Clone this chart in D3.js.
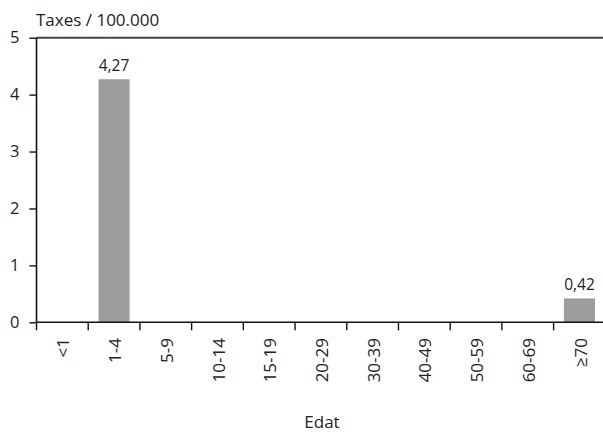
<!DOCTYPE html>
<html>
<head>
<meta charset="utf-8">
<script src="https://cdn.jsdelivr.net/npm/d3@7"></script>
<style>
  html, body { margin: 0; padding: 0; background: #fff; }
  svg { display: block; font-family: "Open Sans", "Noto Sans", sans-serif; }
</style>
</head>
<body>
<svg id="chart" width="603" height="432"></svg>
<script>
const categories = ["<1", "1-4", "5-9", "10-14", "15-19", "20-29", "30-39", "40-49", "50-59", "60-69", "≥70"];
const values = [0, 4.27, 0, 0, 0, 0, 0, 0, 0, 0, 0.42];
const yTicks = [0, 1, 2, 3, 4, 5];
const yTitle = "Taxes / 100.000";
const xTitle = "Edat";

const svg = d3.select("#chart");
const mLeft = 36.5, mRight = 605.3, mTop = 37.7, mBottom = 322.3;

const x = d3.scaleBand().domain(categories).range([mLeft, mRight]).padding(0);
const y = d3.scaleLinear().domain([0, 5]).range([mBottom, mTop]);
const bw = x.bandwidth();
const fmt = v => d3.format(".2f")(v).replace(".", ",");

// top border line at y = 5
svg.append("line")
  .attr("x1", mLeft).attr("x2", 603)
  .attr("y1", y(5)).attr("y2", y(5))
  .attr("stroke", "#444").attr("stroke-width", 2);

const barData = categories.map((c, i) => ({c, v: values[i]})).filter(d => d.v > 0);

// bars
svg.append("g").selectAll("rect")
  .data(barData)
  .join("rect")
  .attr("x", d => x(d.c) + bw * 0.2)
  .attr("width", bw * 0.6)
  .attr("y", d => y(d.v))
  .attr("height", d => y(0) - y(d.v))
  .attr("fill", "#9d9d9d");

// data labels
svg.append("g").selectAll("text")
  .data(barData)
  .join("text")
  .attr("x", d => x(d.c) + bw / 2)
  .attr("y", d => y(d.v) - 8)
  .attr("text-anchor", "middle")
  .attr("font-size", 15.5)
  .attr("fill", "#222")
  .text(d => fmt(d.v));

// y axis
const yAxis = svg.append("g")
  .attr("transform", `translate(${mLeft},0)`)
  .call(d3.axisLeft(y).tickValues(yTicks).tickSize(7).tickPadding(10).tickFormat(d3.format("d")));
yAxis.select(".domain").attr("d", `M0,${mTop}V${mBottom}`).attr("stroke", "#111").attr("stroke-width", 1.6);
yAxis.selectAll(".tick line").attr("stroke", "#111").attr("stroke-width", 1.4);
yAxis.selectAll(".tick text").attr("font-size", 16.5).attr("fill", "#222").attr("font-family", "Open Sans");

// x axis baseline
svg.append("line")
  .attr("x1", mLeft).attr("x2", 603)
  .attr("y1", y(0)).attr("y2", y(0))
  .attr("stroke", "#111").attr("stroke-width", 1.6);

// x ticks at band boundaries
svg.append("g").selectAll("line")
  .data(categories)
  .join("line")
  .attr("x1", d => x(d)).attr("x2", d => x(d))
  .attr("y1", y(0)).attr("y2", y(0) + 8)
  .attr("stroke", "#111").attr("stroke-width", 1.4);

// x labels rotated
svg.append("g").selectAll("text")
  .data(categories)
  .join("text")
  .attr("transform", d => `translate(${x(d) + bw / 2},338) rotate(-90)`)
  .attr("text-anchor", "end")
  .attr("dy", "0.42em")
  .attr("font-size", 17)
  .attr("fill", "#222")
  .text(d => d);

// titles
svg.append("text")
  .attr("x", 36).attr("y", 26)
  .attr("font-size", 17)
  .attr("fill", "#222")
  .text(yTitle);

svg.append("text")
  .attr("x", 322).attr("y", 428)
  .attr("text-anchor", "middle")
  .attr("font-size", 17)
  .attr("fill", "#222")
  .text(xTitle);
</script>
</body>
</html>
